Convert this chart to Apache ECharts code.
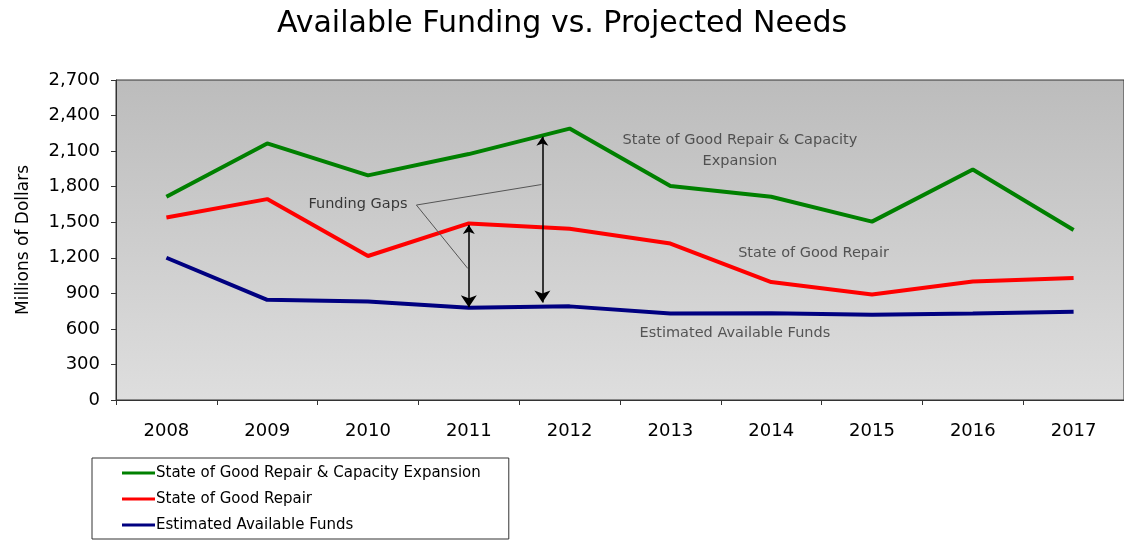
<!DOCTYPE html>
<html>
<head>
<meta charset="utf-8">
<script src="https://cdn.jsdelivr.net/npm/echarts@6/dist/echarts.min.js"></script>
<style>
html,body{margin:0;padding:0;background:#fff;}
#chart{width:1124px;height:543px;}
</style>
</head>
<body>
<div id="chart"></div>
<script>
// ---- data ----
var years = ['2008','2009','2010','2011','2012','2013','2014','2015','2016','2017'];
var seriesNames = ['State of Good Repair & Capacity Expansion','State of Good Repair','Estimated Available Funds'];
var repairCapacity = [1715, 2165, 1895, 2075, 2290, 1805, 1715, 1505, 1945, 1435];
var goodRepair = [1540, 1695, 1215, 1490, 1445, 1320, 995, 890, 1000, 1030];
var availableFunds = [1200, 845, 832, 778, 790, 730, 732, 720, 730, 745];
var yTicks = {min: 0, max: 2700, interval: 300};

// annotation positions in data units (x = category index, y = millions of dollars)
var gapArrows = [
  [[3.0, 1476], [3.0, 782]],
  [[3.73, 2222], [3.73, 823]]
];
var calloutLines = [
  [[2.48, 1645], [3.72, 1818]],
  [[2.48, 1645], [2.99, 1110]]
];
var annotationTexts = [
  {text: 'Funding Gaps', x: 1.9, y: 1655, color: '#111'},
  {text: 'State of Good Repair & Capacity\nExpansion', x: 5.69, y: 2100, color: '#333'},
  {text: 'State of Good Repair', x: 6.42, y: 1238, color: '#333'},
  {text: 'Estimated Available Funds', x: 5.64, y: 560, color: '#333'}
];

var FONT = "'DejaVu Sans', sans-serif";
var chart = echarts.init(document.getElementById('chart'));

function fmt(v){ return String(v).replace(/\B(?=(\d{3})+(?!\d))/g, ','); }

var option = {
  animation: false,
  backgroundColor: '#fff',
  title: {
    text: 'Available Funding vs. Projected Needs',
    left: 'center',
    top: 4,
    textStyle: {fontFamily: FONT, fontSize: 30, fontWeight: 'normal', color: '#000'}
  },
  grid: {
    left: 116, top: 80, right: -14, bottom: 143,
    show: true,
    borderColor: '#333', borderWidth: 1,
    backgroundColor: new echarts.graphic.LinearGradient(0, 0, 0, 1, [
      {offset: 0, color: '#bcbcbc'},
      {offset: 1, color: '#dedede'}
    ])
  },
  legend: {
    orient: 'vertical',
    left: 92, top: 458,
    backgroundColor: '#fff',
    borderColor: '#333', borderWidth: 1,
    padding: [6, 28, 5, 30],
    itemWidth: 33, itemHeight: 3, itemGap: 8,
    icon: 'rect',
    textStyle: {fontFamily: FONT, fontSize: 15, color: '#000', lineHeight: 18, padding: [0,0,0,-4]},
    data: seriesNames
  },
  xAxis: [
    {
      type: 'category',
      data: years,
      boundaryGap: true,
      axisLine: {show: true, lineStyle: {color: '#333', width: 1}},
      axisTick: {show: true, length: 5, inside: false, alignWithLabel: false, lineStyle: {color: '#333'}},
      axisLabel: {fontFamily: FONT, fontSize: 18, color: '#000', margin: 22},
      splitLine: {show: false}
    },
    {
      type: 'value', min: -0.5, max: 9.5, show: false
    }
  ],
  yAxis: {
    type: 'value',
    min: yTicks.min, max: yTicks.max, interval: yTicks.interval,
    name: 'Millions of Dollars',
    nameLocation: 'middle',
    nameRotate: 90,
    nameGap: 84,
    nameTextStyle: {fontFamily: FONT, fontSize: 17, color: '#000'},
    axisLine: {show: true, onZero: false, lineStyle: {color: '#333', width: 1}},
    axisTick: {show: true, length: 5, lineStyle: {color: '#333'}},
    axisLabel: {fontFamily: FONT, fontSize: 18, color: '#000', margin: 16, formatter: fmt},
    splitLine: {show: false}
  },
  series: [
    {
      name: seriesNames[0], type: 'line', data: repairCapacity,
      symbol: 'none', lineStyle: {color: '#008000', width: 4}, itemStyle: {color: '#008000'}
    },
    {
      name: seriesNames[1], type: 'line', data: goodRepair,
      symbol: 'none', lineStyle: {color: '#ff0000', width: 4}, itemStyle: {color: '#ff0000'}
    },
    {
      name: seriesNames[2], type: 'line', data: availableFunds,
      symbol: 'none', lineStyle: {color: '#000080', width: 4}, itemStyle: {color: '#000080'}
    },
    {
      type: 'lines', coordinateSystem: 'cartesian2d', xAxisIndex: 1, yAxisIndex: 0,
      symbol: ['arrow', 'arrow'], symbolSize: [9, 12],
      lineStyle: {color: '#000', width: 1.5, opacity: 1},
      data: gapArrows.map(function(c){ return {coords: c}; }),
      silent: true, z: 5
    },
    {
      type: 'lines', coordinateSystem: 'cartesian2d', xAxisIndex: 1, yAxisIndex: 0,
      symbol: 'none',
      lineStyle: {color: '#555', width: 1, opacity: 1},
      data: calloutLines.map(function(c){ return {coords: c}; }),
      silent: true, z: 4
    },
    {
      type: 'scatter', xAxisIndex: 1, yAxisIndex: 0,
      symbolSize: 0, silent: true, z: 6,
      data: annotationTexts.map(function(a){
        return {
          value: [a.x, a.y],
          label: {
            show: true, position: 'inside', formatter: a.text,
            fontFamily: FONT, fontSize: 14.5, color: a.color, lineHeight: 21, align: 'center'
          }
        };
      })
    }
  ]
};
chart.setOption(option);
</script>
</body>
</html>
